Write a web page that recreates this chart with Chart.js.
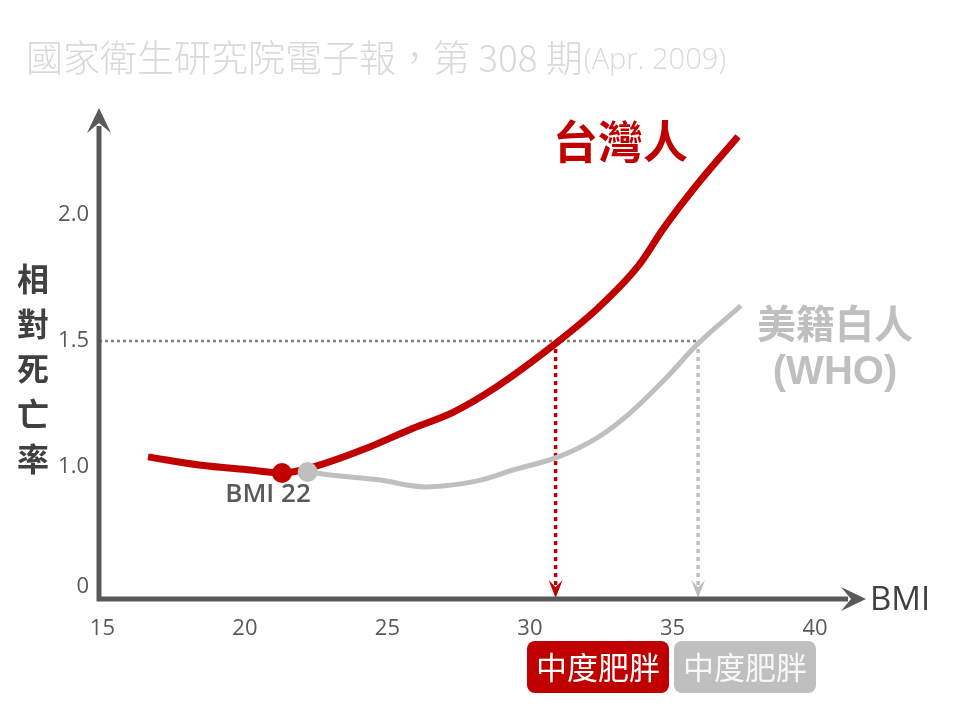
<!DOCTYPE html>
<html>
<head>
<meta charset="utf-8">
<script src="https://cdn.jsdelivr.net/npm/chart.js@4.4.0/dist/chart.umd.min.js"></script>
<style>
  html, body { margin: 0; padding: 0; background: #fff; }
  #wrap { width: 960px; height: 720px; position: relative; }
</style>
</head>
<body>
<div id="wrap"><canvas id="chart"></canvas></div>
<script>
// relative mortality vs BMI
const taiwanBmi  = [16.6, 18.4, 20.2, 21.3, 22.4, 24.1, 25.9, 27.3, 28.8, 30.9, 32.4, 33.8, 34.7, 35.9, 37.3];
const taiwanRisk = [1.04, 1.008, 0.988, 0.976, 1.0, 1.067, 1.154, 1.217, 1.316, 1.49, 1.632, 1.798, 1.949, 2.126, 2.312];
const whoBmi  = [21.7, 22.2, 23.0, 24.7, 26.3, 27.3, 28.3, 29.4, 30.9, 32.4, 33.5, 34.7, 35.9, 37.4];
const whoRisk = [0.985, 0.98, 0.968, 0.949, 0.921, 0.929, 0.949, 0.988, 1.036, 1.119, 1.213, 1.344, 1.49, 1.64];

// reference dots ("BMI 22")
const dotBmi  = [21.3, 22.2];
const dotRisk = [0.976, 0.98];

// where each curve reaches RR 1.5 (moderate obesity)
const obeseBmi = [30.9, 35.9];
const obeseRisk = 1.5;

const xTicks = [15, 20, 25, 30, 35, 40];
const yTicks = [0, 1.0, 1.5, 2.0];
const yTickLabels = ['0', '1.0', '1.5', '2.0'];
const Y_BREAK = 0.524; // axis is broken, "0" sits just above the x axis

const RED = '#c00000';
const GRAY = '#bfbfbf';
const DARK = '#595959';
const CJK = '"Noto Sans CJK TC", "Noto Sans", sans-serif';
const LATIN = '"Open Sans", "Noto Sans", sans-serif';

const toPoints = (xs, ys) => xs.map((x, i) => ({x: x, y: ys[i]}));

// stealth style arrow head, tip at (x, y), pointing in direction (dx, dy)
const arrowHead = (ctx, x, y, dx, dy, len, half, color) => {
    let nx = -dy, ny = dx;
    ctx.save();
    ctx.fillStyle = color;
    ctx.beginPath();
    ctx.moveTo(x, y);
    ctx.lineTo(x - dx * len + nx * half, y - dy * len + ny * half);
    ctx.lineTo(x - dx * len * 0.6, y - dy * len * 0.6);
    ctx.lineTo(x - dx * len - nx * half, y - dy * len - ny * half);
    ctx.closePath();
    ctx.fill();
    ctx.restore();
}

const guidesPlugin = {
    id: 'guides',
    beforeDatasetsDraw(chart) {
        const ctx = chart.ctx;
        const xs = chart.scales.x, ys = chart.scales.y;
        const area = chart.chartArea;
        const yLevel = ys.getPixelForValue(obeseRisk);

        // horizontal dotted line at RR 1.5
        ctx.save();
        ctx.strokeStyle = '#808080';
        ctx.lineWidth = 2.5;
        ctx.setLineDash([3, 3]);
        ctx.beginPath();
        ctx.moveTo(area.left, yLevel);
        ctx.lineTo(xs.getPixelForValue(obeseBmi[1]), yLevel);
        ctx.stroke();

        // vertical dotted arrows down to the x axis
        const cols = [RED, GRAY];
        obeseBmi.forEach((b, i) => {
            let px = xs.getPixelForValue(b);
            ctx.strokeStyle = cols[i];
            ctx.lineWidth = 3.5;
            ctx.setLineDash([4, 4]);
            ctx.beginPath();
            ctx.moveTo(px, yLevel);
            ctx.lineTo(px, area.bottom - 14);
            ctx.stroke();
            arrowHead(ctx, px, area.bottom - 1, 0, 1, 18, 7, cols[i]);
        });
        ctx.restore();
    },
    afterDraw(chart) {
        const ctx = chart.ctx;
        const area = chart.chartArea;

        // axes with arrows
        ctx.save();
        ctx.strokeStyle = DARK;
        ctx.lineWidth = 5;
        ctx.beginPath();
        ctx.moveTo(area.left, area.bottom + 2.5);
        ctx.lineTo(area.left, area.top + 16);
        ctx.moveTo(area.left - 2.5, area.bottom);
        ctx.lineTo(area.right - 14, area.bottom);
        ctx.stroke();
        arrowHead(ctx, area.left, area.top - 2, 0, -1, 25, 12, DARK);
        arrowHead(ctx, area.right + 4, area.bottom, 1, 0, 25, 12, DARK);

        // title
        ctx.textBaseline = 'middle';
        ctx.textAlign = 'left';
        ctx.fillStyle = '#d9d9d9';
        ctx.font = '300 37px ' + CJK;
        const head = '國家衛生研究院電子報，第 308 期';
        ctx.fillText(head, 26, 58);
        let w = ctx.measureText(head).width;
        ctx.font = '300 29px ' + LATIN;
        ctx.fillText('(Apr. 2009)', 26 + w + 1, 61);

        // y axis title, one character per line
        ctx.fillStyle = '#404040';
        ctx.font = 'bold 32px ' + CJK;
        ctx.textAlign = 'center';
        '相對死亡率'.split('').forEach((c, i) => ctx.fillText(c, 33, 279 + i * 45));

        // x axis name
        ctx.textAlign = 'left';
        ctx.font = '33px ' + LATIN;
        ctx.fillStyle = '#404040';
        ctx.fillText('BMI', 870, 601);

        // series labels
        ctx.fillStyle = RED;
        ctx.font = 'bold 45px ' + CJK;
        ctx.fillText('台灣人', 553, 142);

        ctx.textAlign = 'center';
        ctx.fillStyle = GRAY;
        ctx.font = 'bold 39px ' + CJK;
        ctx.fillText('美籍白人', 835, 323);
        ctx.font = 'bold 40px "Liberation Sans", Arial, sans-serif';
        ctx.fillText('(WHO)', 835, 373);

        ctx.fillStyle = DARK;
        ctx.font = '600 26px ' + LATIN;
        ctx.fillText('BMI 22', 268, 495);

        // obesity boxes
        const boxes = [[527, RED, '#ffffff'], [674, GRAY, '#f7f7f7']];
        boxes.forEach(b => {
            ctx.fillStyle = b[1];
            ctx.beginPath();
            ctx.roundRect(b[0], 641, 142, 52, 8);
            ctx.fill();
            ctx.fillStyle = b[2];
            ctx.font = '31px ' + CJK;
            ctx.fillText('中度肥胖', b[0] + 71, 667);
        });
        ctx.restore();
    }
};

const config = {
    type: 'scatter',
    data: {
        datasets: [
            {
                label: 'BMI 22 (WHO)',
                data: [{x: dotBmi[1], y: dotRisk[1]}],
                backgroundColor: GRAY,
                borderWidth: 0,
                pointRadius: 10
            },
            {
                label: 'BMI 22 (台灣人)',
                data: [{x: dotBmi[0], y: dotRisk[0]}],
                backgroundColor: RED,
                borderWidth: 0,
                pointRadius: 10
            },
            {
                label: '台灣人',
                data: toPoints(taiwanBmi, taiwanRisk),
                borderColor: RED,
                borderWidth: 7,
                showLine: true,
                pointRadius: 0,
                cubicInterpolationMode: 'monotone',
                borderCapStyle: 'butt'
            },
            {
                label: '美籍白人 (WHO)',
                data: toPoints(whoBmi, whoRisk),
                borderColor: GRAY,
                borderWidth: 5,
                showLine: true,
                pointRadius: 0,
                cubicInterpolationMode: 'monotone'
            }
        ]
    },
    options: {
        responsive: true,
        maintainAspectRatio: false,
        animation: false,
        layout: { padding: { left: 0, top: 110, right: 98, bottom: 0 } },
        plugins: {
            legend: { display: false },
            tooltip: { enabled: false }
        },
        scales: {
            x: {
                type: 'linear',
                position: 'bottom',
                min: 14.88,
                max: 41.65,
                grid: { display: false, drawTicks: false },
                border: { display: false },
                afterBuildTicks: s => { s.ticks = xTicks.map(v => ({value: v})); },
                afterFit: s => { s.height = 121; },
                ticks: {
                    padding: 17,
                    color: DARK,
                    font: { size: 22, family: LATIN },
                    callback: v => String(v)
                }
            },
            y: {
                type: 'linear',
                min: 0.476,
                max: 2.417,
                grid: { display: false, drawTicks: false },
                border: { display: false },
                afterBuildTicks: s => { s.ticks = yTicks.map(v => ({value: v === 0 ? Y_BREAK : v})); },
                afterFit: s => { s.width = 99; },
                ticks: {
                    padding: 10,
                    color: DARK,
                    font: { size: 22, family: LATIN },
                    callback: (v, i) => yTickLabels[i]
                }
            }
        }
    },
    plugins: [guidesPlugin]
};

let chart = new Chart(document.getElementById('chart').getContext('2d'), config);
</script>
</body>
</html>
